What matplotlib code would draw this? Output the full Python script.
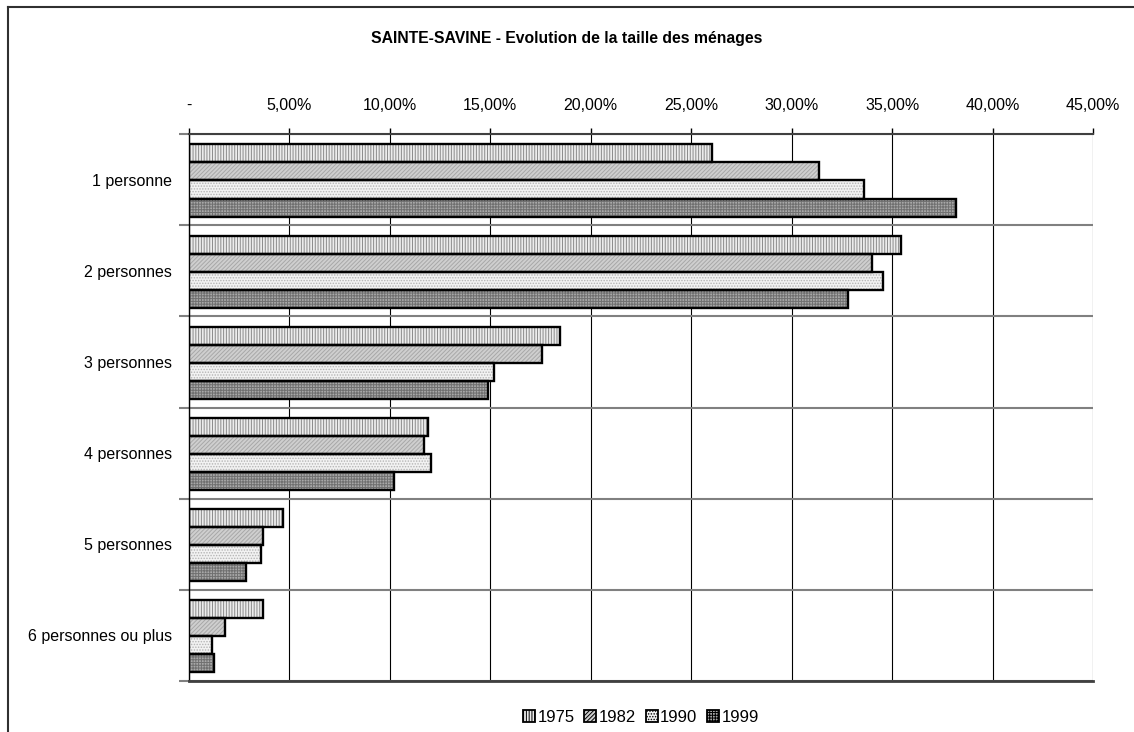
import matplotlib
matplotlib.use("Agg")
import matplotlib.pyplot as plt
from matplotlib.patches import Patch
from matplotlib.lines import Line2D
import numpy as np

plt.rcParams['font.family'] = ['Liberation Sans', 'DejaVu Sans']
plt.rcParams['hatch.linewidth'] = 0.7

categories = ['1 personne', '2 personnes', '3 personnes', '4 personnes',
              '5 personnes', '6 personnes ou plus']
years = ['1975', '1982', '1990', '1999']

# parts des ménages, en %
v1975 = [26.05, 35.45, 18.45, 11.9, 4.7, 3.7]
v1982 = [31.35, 34.0, 17.55, 11.7, 3.7, 1.8]
v1990 = [33.6, 34.55, 15.2, 12.05, 3.6, 1.15]
v1999 = [38.2, 32.8, 14.9, 10.2, 2.85, 1.25]
series = [v1975, v1982, v1990, v1999]

x_ticks = [0, 5, 10, 15, 20, 25, 30, 35, 40, 45]
x_labels = ['-', '5,00%', '10,00%', '15,00%', '20,00%', '25,00%',
            '30,00%', '35,00%', '40,00%', '45,00%']

# motifs (fond, couleur du motif, hachure)
styles = [('#ececec', '#8a8a8a', '||||||'),
          ('#cfcfcf', '#a8a8a8', '////////'),
          ('#f2f2f2', '#b4b4b4', '......'),
          ('#a8a8a8', '#707070', '++++++')]

fig = plt.figure(figsize=(11.34, 7.32), dpi=100)
ax = fig.add_axes([189 / 1134, 1 - 681 / 732, (1093 - 189) / 1134, (681 - 134) / 732])

y = np.arange(len(categories))
h = 0.198
for k, vals in enumerate(series):
    pos = y + (k - 1.5) * h + 0.01
    fc, hc, hatch = styles[k]
    ax.barh(pos, vals, height=h, color=fc, edgecolor=hc, hatch=hatch,
            linewidth=0, zorder=3)
    ax.barh(pos, vals, height=h, fill=False, edgecolor='black',
            linewidth=1.7, zorder=4)

ax.set_xlim(0, 45)
ax.set_ylim(len(categories) - 0.5, -0.5)

ax.xaxis.tick_top()
ax.set_xticks(x_ticks)
ax.set_xticklabels(x_labels, fontsize=11.5)
ax.tick_params(axis='x', direction='out', length=4, width=1, pad=11, color='black')

ax.set_yticks(np.arange(-0.5, len(categories)), labels=[''] * (len(categories) + 1))
ax.set_yticks(y, labels=categories, minor=True)
ax.tick_params(axis='y', which='major', length=7, width=1.5, color='#808080')
ax.tick_params(axis='y', which='minor', length=0, pad=12, labelsize=11.5)

ax.grid(axis='x', color='black', linewidth=0.8, zorder=1)
ax.grid(axis='y', which='major', color='#808080', linewidth=1.5, zorder=1)
ax.set_axisbelow(True)

ax.spines['right'].set_visible(False)
ax.spines['top'].set_color('#404040')
ax.spines['top'].set_linewidth(1.5)
ax.spines['bottom'].set_color('#404040')
ax.spines['bottom'].set_linewidth(2)
ax.spines['left'].set_color('black')
ax.spines['left'].set_linewidth(1)

fig.text(0.5, 1 - 38 / 732, 'SAINTE-SAVINE - Evolution de la taille des ménages',
         ha='center', va='center', fontsize=11.3, fontweight='bold')

handles = [Patch(facecolor=s[0], edgecolor='black', hatch=s[2], linewidth=1.3)
           for s in styles]
fig.legend(handles, years, loc='center', bbox_to_anchor=(641 / 1134, 1 - 717 / 732),
           ncol=4, frameon=False, fontsize=12, handlelength=0.7, handleheight=0.7,
           handletextpad=0.15, columnspacing=0.6, borderpad=0)

# cadre extérieur
fig.add_artist(Line2D([8 / 1134, 8 / 1134], [0, 1 - 7 / 732], transform=fig.transFigure,
                      color='#303030', linewidth=1.5))
fig.add_artist(Line2D([8 / 1134, 1], [1 - 7 / 732, 1 - 7 / 732], transform=fig.transFigure,
                      color='#303030', linewidth=1.5))

fig.savefig('out.png', dpi=100)
